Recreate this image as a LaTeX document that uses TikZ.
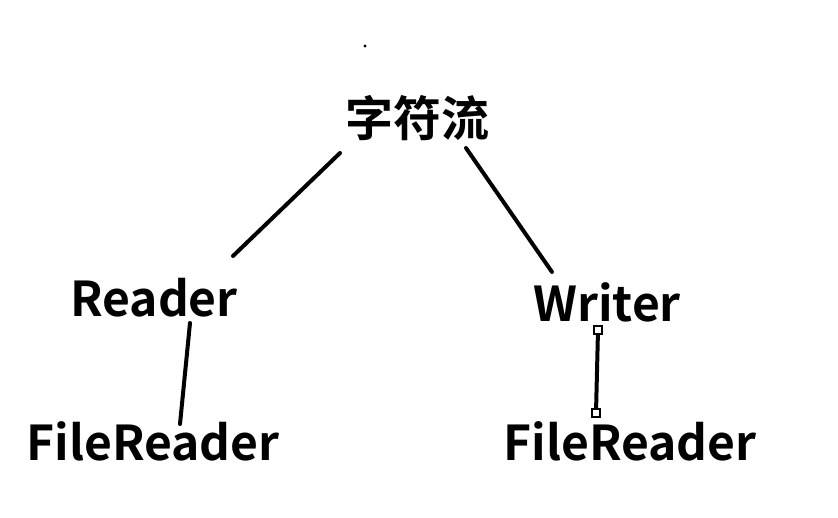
\documentclass[tikz,border=0pt]{standalone}
\usepackage{fontspec}
\setmainfont{Noto Sans CJK SC}[BoldFont={Noto Sans CJK SC Bold}]
\begin{document}
\begin{tikzpicture}[x=1pt,y=-1pt,
  lbl/.style={font=\bfseries\fontsize{48}{48}\selectfont, inner sep=0pt, anchor=center},
  handle/.style={draw=black, fill=white, line width=1.2pt, minimum size=8pt, inner sep=0pt},
  link/.style={line width=4pt, line cap=round}]
\useasboundingbox (0,0) rectangle (838,517);
\node[lbl] (root) at (417,118) {字符流};
\node[lbl] (reader) at (154,298) {Reader};
\node[lbl] (writer) at (607,302) {Writer};
\node[lbl] (fr1) at (153,441) {FileReader};
\node[lbl] (fr2) at (630,441) {FileReader};
\fill (365,46) circle (1.6pt);
\coordinate (a1) at (340,153); \coordinate (a2) at (233,256);
\coordinate (b1) at (466,148); \coordinate (b2) at (552,272);
\coordinate (c1) at (190,323); \coordinate (c2) at (180,424);
\coordinate (d1) at (598,330); \coordinate (d2) at (596,413);
\draw[link] (a1) -- (a2);
\draw[link] (b1) -- (b2);
\draw[link] (c1) -- (c2);
\draw[link,line cap=butt] (d1) -- (d2);
\node[handle] (h1) at (d1) {};
\node[handle] (h2) at (d2) {};
\end{tikzpicture}
\end{document}
